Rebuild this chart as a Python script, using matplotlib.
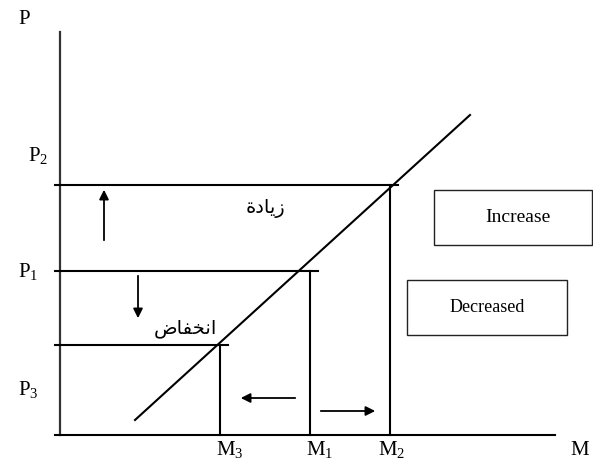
import matplotlib.pyplot as plt
from matplotlib.patches import Rectangle

# money quantity levels (x) and price levels (y)
m_levels = {"M3": 160, "M1": 250, "M2": 330}
p_levels = {"P3": 90, "P1": 164, "P2": 250}
# supply line end points
line_x = [75, 410]
line_y = [15, 320]
x_max = 495
y_max = 403

# arabic words in shaped presentation forms, visual order
txt_up = "\uFE93\uFEA9\uFE8E\uFEF3\uFEAF"        # زيادة
txt_down = "\uFEBD\uFE8E\uFED4\uFEA8\uFEE7\uFE8D"  # انخفاض

serif = "Liberation Serif"
plt.rcParams["mathtext.fontset"] = "custom"
plt.rcParams["mathtext.rm"] = serif
plt.rcParams["mathtext.it"] = serif
plt.rcParams["mathtext.default"] = "rm"

fig = plt.figure(figsize=(5.93, 4.63), dpi=100)
ax = fig.add_axes([0, 0, 1, 1])
ax.set_xlim(-60, 533)
ax.set_ylim(-28, 435)
ax.axis("off")

lw = 1.5
# axes
ax.plot([0, 0], [0, y_max], color="#333", lw=1.6)
ax.plot([-5, x_max], [0, 0], color="black", lw=lw)

# price guides and quantity guides
pairs = [("P2", "M2"), ("P1", "M1"), ("P3", "M3")]
for p, m in pairs:
    ax.plot([-5, m_levels[m] + 8], [p_levels[p], p_levels[p]], color="black", lw=lw)
    ax.plot([m_levels[m], m_levels[m]], [0, p_levels[p]], color="black", lw=lw)

# supply line
ax.plot(line_x, line_y, color="black", lw=lw)

# arrows
akw = dict(arrowstyle="-|>", color="black", lw=1.3, mutation_scale=14)
ax.annotate("", xy=(44, p_levels["P2"] - 2), xytext=(44, 192), arrowprops=akw)
ax.annotate("", xy=(78, 114), xytext=(78, p_levels["P1"] - 2), arrowprops=akw)
ax.annotate("", xy=(178, 37), xytext=(238, 37), arrowprops=akw)
ax.annotate("", xy=(318, 24), xytext=(258, 24), arrowprops=akw)


def sub_label(name):
    return name[0] + r"$_{\mathregular{" + name[1] + "}}$"


# labels on axes
ax.text(-42, 415, "P", fontsize=15, family=serif, ha="left", va="center")
p_text_pos = {"P2": (-32, 280), "P1": (-42, 164), "P3": (-42, 46)}
for name, (tx, ty) in p_text_pos.items():
    ax.text(tx, ty, sub_label(name), fontsize=15, family=serif,
            ha="left", va="center")
m_text_x = {"M3": 170, "M1": 260, "M2": 332}
for name, tx in m_text_x.items():
    ax.text(tx, -20, sub_label(name), fontsize=15, family=serif,
            ha="center", va="baseline")
ax.text(520, -20, "M", fontsize=15, family=serif, ha="center", va="baseline")

# arabic labels
ax.text(205, 227, txt_up, fontsize=14, family="DejaVu Sans", ha="center", va="center")
ax.text(125, 107, txt_down, fontsize=14, family="DejaVu Sans", ha="center", va="center")

# english boxes
ax.add_patch(Rectangle((374, 190), 158, 55, fill=False, ec="#222", lw=1.0))
ax.text(458, 217, "Increase", fontsize=14, family=serif, ha="center", va="center")
ax.add_patch(Rectangle((347, 100), 160, 55, fill=False, ec="#222", lw=1.0))
ax.text(427, 127, "Decreased", fontsize=13, family=serif, ha="center", va="center")

fig.savefig("out.png", dpi=100)
